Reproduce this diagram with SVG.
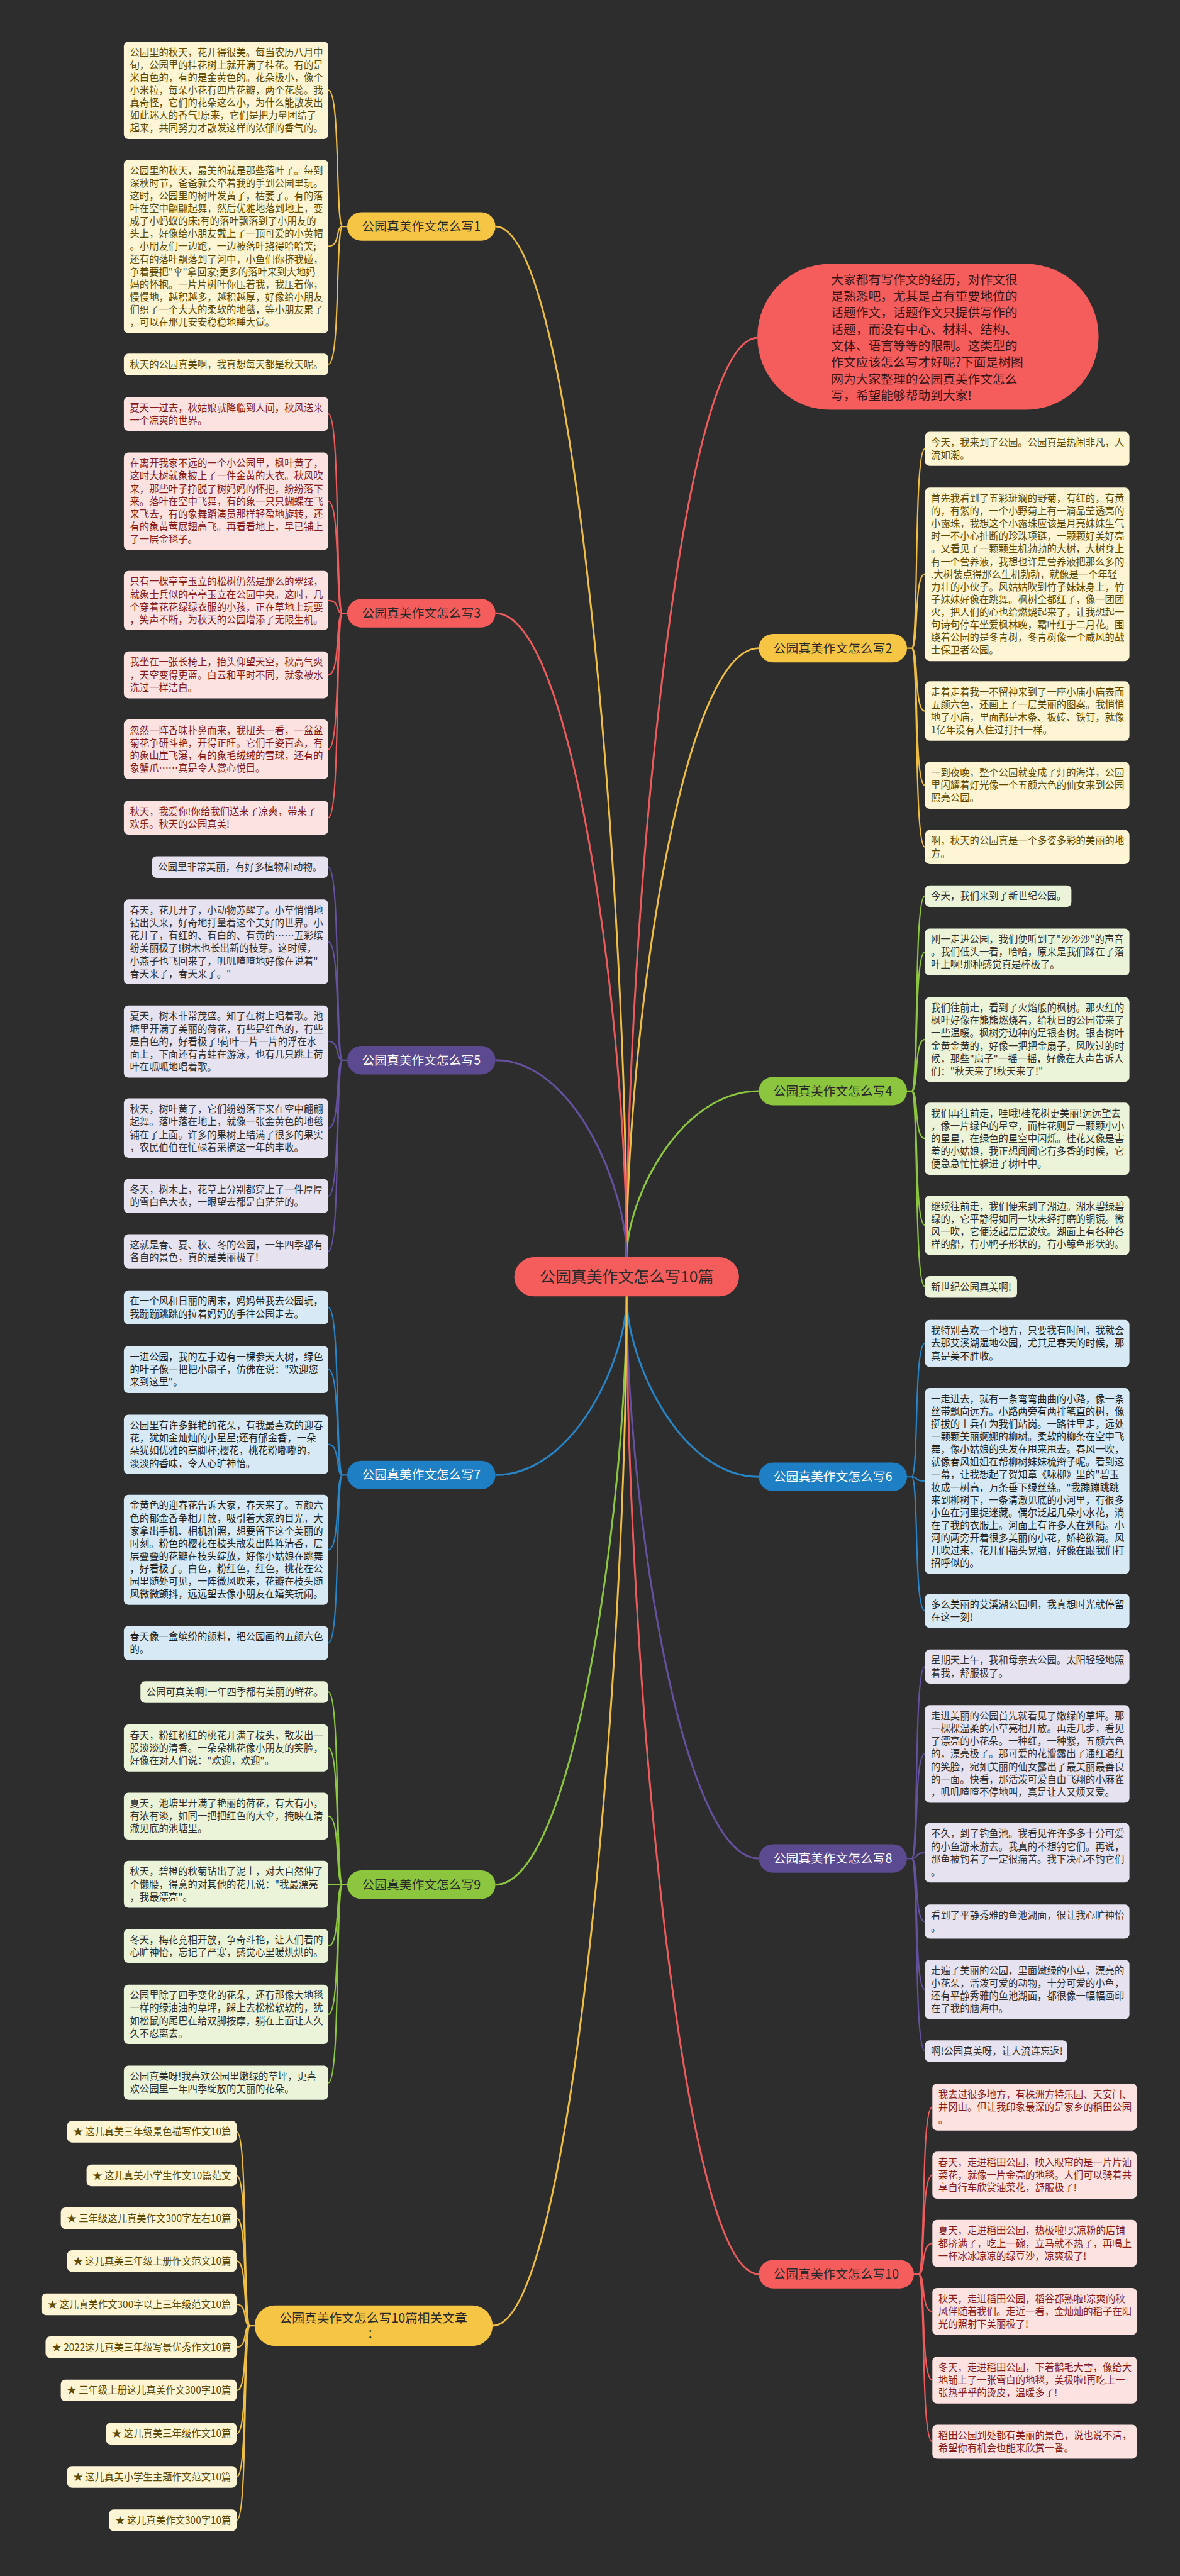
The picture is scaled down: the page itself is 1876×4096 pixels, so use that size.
<svg xmlns="http://www.w3.org/2000/svg" width="1876" height="4096" viewBox="0 0 1876 4096">
<style>
text{font-family:"Noto Sans CJK SC","Noto Sans",sans-serif}
.t{font-size:21px}
.nt{font-size:27px;text-anchor:middle}
.re{text-anchor:end}
.c{fill:none;stroke-width:3}
.m{fill:none;stroke-width:4}
.sy{stroke:#efbf45}.sr{stroke:#ee5b5c}.sg{stroke:#8dc63f}.sp{stroke:#65519f}.sb{stroke:#2785c8}
.by{fill:#fdf5d4}.ty{fill:#5f4800}
.br{fill:#fde2e2}.tr{fill:#8a1b1b}
.bgr{fill:#ebf4d9}.tg{fill:#2f2f2f}
.bp{fill:#e6e2f0}.tp{fill:#2f2f2f}
.bb{fill:#d6e9f5}.tb{fill:#222}
.ny{fill:#f7c544}.nr{fill:#f55d5d}.ng{fill:#8cc63f}.np{fill:#5c4a91}.nb{fill:#1f7fc4}
.dk{fill:#2a2a2a}.wh{fill:#fff}
</style>
<rect x="0" y="0" width="1876" height="4096" fill="#2d2d2d"/>
<g transform="scale(0.732)">
<g id="connectors">
<path class="m sy" d="M1361,2731 C1361,1947 1249,492 1076,492"/>
<path class="m sr" d="M1361,2731 C1361,2032 1474,734 1645,734"/>
<path class="m sy" d="M1361,2731 C1361,2268 1476,1408 1648,1408"/>
<path class="m sr" d="M1361,2731 C1361,2241 1247,1332 1076,1332"/>
<path class="m sg" d="M1361,2731 C1361,2605 1476,2370 1648,2370"/>
<path class="m sp" d="M1361,2731 C1361,2581 1247,2303 1076,2303"/>
<path class="m sb" d="M1361,2816 C1361,2953 1476,3208 1648,3208"/>
<path class="m sb" d="M1361,2816 C1361,2952 1247,3204 1076,3204"/>
<path class="m sp" d="M1361,2816 C1361,3243 1476,4037 1648,4037"/>
<path class="m sg" d="M1361,2816 C1361,3263 1247,4094 1076,4094"/>
<path class="m sr" d="M1361,2816 C1361,3559 1476,4940 1648,4940"/>
<path class="m sy" d="M1361,2816 C1361,3599 1244,5052 1070,5052"/>
<path class="c sy" d="M754,492 L744,492 C728,492 740,196 713,196 M744,492 C728,492 740,535 713,535 M744,492 C728,492 740,791 713,791"/>
<path class="c sr" d="M754,1332 L744,1332 C728,1332 740,899 713,899 M744,1332 C728,1332 740,1089 713,1089 M744,1332 C728,1332 740,1304.5 713,1304.5 M744,1332 C728,1332 740,1466 713,1466 M744,1332 C728,1332 740,1627.5 713,1627.5 M744,1332 C728,1332 740,1776 713,1776"/>
<path class="c sp" d="M754,2303 L744,2303 C728,2303 740,1883 713,1883 M744,2303 C728,2303 740,2046 713,2046 M744,2303 C728,2303 740,2262 713,2262 M744,2303 C728,2303 740,2450.5 713,2450.5 M744,2303 C728,2303 740,2598 713,2598 M744,2303 C728,2303 740,2718 713,2718"/>
<path class="c sb" d="M754,3204 L744,3204 C728,3204 740,2840 713,2840 M744,3204 C728,3204 740,2975 713,2975 M744,3204 C728,3204 740,3137.5 713,3137.5 M744,3204 C728,3204 740,3366.5 713,3366.5 M744,3204 C728,3204 740,3569 713,3569"/>
<path class="c sg" d="M754,4094 L744,4094 C728,4094 740,3675 713,3675 M744,4094 C728,4094 740,3797 713,3797 M744,4094 C728,4094 740,3945 713,3945 M744,4094 C728,4094 740,4093 713,4093 M744,4094 C728,4094 740,4227 713,4227 M744,4094 C728,4094 740,4375.5 713,4375.5 M744,4094 C728,4094 740,4524 713,4524"/>
<path class="c sy" d="M553,5052 L543,5052 C527,5052 539,4630.5 514,4630.5 M543,5052 C527,5052 539,4725.5 514,4725.5 M543,5052 C527,5052 539,4818.5 514,4818.5 M543,5052 C527,5052 539,4911.5 514,4911.5 M543,5052 C527,5052 539,5005.5 514,5005.5 M543,5052 C527,5052 539,5098.5 514,5098.5 M543,5052 C527,5052 539,5192.5 514,5192.5 M543,5052 C527,5052 539,5286.5 514,5286.5 M543,5052 C527,5052 539,5380.5 514,5380.5 M543,5052 C527,5052 539,5474.5 514,5474.5"/>
<path class="c sy" d="M1970,1408 L1980,1408 C1996,1408 1984,975 2009,975 M1980,1408 C1996,1408 1984,1247 2009,1247 M1980,1408 C1996,1408 1984,1544.5 2009,1544.5 M1980,1408 C1996,1408 1984,1706 2009,1706 M1980,1408 C1996,1408 1984,1840 2009,1840"/>
<path class="c sg" d="M1970,2370 L1980,2370 C1996,2370 1984,1946 2009,1946 M1980,2370 C1996,2370 1984,2068 2009,2068 M1980,2370 C1996,2370 1984,2258 2009,2258 M1980,2370 C1996,2370 1984,2473 2009,2473 M1980,2370 C1996,2370 1984,2661.5 2009,2661.5 M1980,2370 C1996,2370 1984,2795 2009,2795"/>
<path class="c sb" d="M1970,3208 L1980,3208 C1996,3208 1984,2918 2009,2918 M1980,3208 C1996,3208 1984,3217 2009,3217 M1980,3208 C1996,3208 1984,3499 2009,3499"/>
<path class="c sp" d="M1970,4037 L1980,4037 C1996,4037 1984,3620 2009,3620 M1980,4037 C1996,4037 1984,3810 2009,3810 M1980,4037 C1996,4037 1984,4024.5 2009,4024.5 M1980,4037 C1996,4037 1984,4174 2009,4174 M1980,4037 C1996,4037 1984,4321.5 2009,4321.5 M1980,4037 C1996,4037 1984,4455 2009,4455"/>
<path class="c sr" d="M1985,4940 L1995,4940 C2011,4940 1999,4577 2025,4577 M1995,4940 C2011,4940 1999,4725 2025,4725 M1995,4940 C2011,4940 1999,4873 2025,4873 M1995,4940 C2011,4940 1999,5021 2025,5021 M1995,4940 C2011,4940 1999,5170 2025,5170 M1995,4940 C2011,4940 1999,5304 2025,5304"/>
</g>

<g id="main">
<rect class="nr" x="1117" y="2731" width="488" height="85" rx="42.5"/>
<text class="dk" x="1361" y="2785" font-size="34" text-anchor="middle">公园真美作文怎么写10篇</text>
</g>

<g id="intro">
<rect class="nr" x="1645" y="573" width="741" height="317" rx="158" ry="158"/>
<text fill="#3a1414" font-size="27" x="1805" y="617"><tspan x="1805">大家都有写作文的经历，对作文很</tspan><tspan x="1805" dy="36">是熟悉吧，尤其是占有重要地位的</tspan><tspan x="1805" dy="36">话题作文，话题作文只提供写作的</tspan><tspan x="1805" dy="36">话题，而没有中心、材料、结构、</tspan><tspan x="1805" dy="36">文体、语言等等的限制。这类型的</tspan><tspan x="1805" dy="36">作文应该怎么写才好呢?下面是树图</tspan><tspan x="1805" dy="36">网为大家整理的公园真美作文怎么</tspan><tspan x="1805" dy="36">写，希望能够帮助到大家!</tspan></text>
</g>

<g id="node1"><rect class="ny" x="754" y="461" width="322" height="62" rx="31"/><text class="nt dk" x="915" y="501.5">公园真美作文怎么写1</text></g>
<g id="node2"><rect class="ny" x="1648" y="1377" width="322" height="62" rx="31"/><text class="nt dk" x="1809" y="1417.5">公园真美作文怎么写2</text></g>
<g id="node3"><rect class="nr" x="754" y="1301" width="322" height="62" rx="31"/><text class="nt dk" x="915" y="1341.5">公园真美作文怎么写3</text></g>
<g id="node4"><rect class="ng" x="1648" y="2339" width="322" height="62" rx="31"/><text class="nt dk" x="1809" y="2379.5">公园真美作文怎么写4</text></g>
<g id="node5"><rect class="np" x="754" y="2272" width="322" height="62" rx="31"/><text class="nt wh" x="915" y="2312.5">公园真美作文怎么写5</text></g>
<g id="node6"><rect class="nb" x="1648" y="3177" width="322" height="62" rx="31"/><text class="nt wh" x="1809" y="3217.5">公园真美作文怎么写6</text></g>
<g id="node7"><rect class="nb" x="754" y="3173" width="322" height="62" rx="31"/><text class="nt wh" x="915" y="3213.5">公园真美作文怎么写7</text></g>
<g id="node8"><rect class="np" x="1648" y="4006" width="322" height="62" rx="31"/><text class="nt wh" x="1809" y="4046.5">公园真美作文怎么写8</text></g>
<g id="node9"><rect class="ng" x="754" y="4063" width="322" height="62" rx="31"/><text class="nt dk" x="915" y="4103.5">公园真美作文怎么写9</text></g>
<g id="node10"><rect class="nr" x="1648" y="4909" width="337" height="62" rx="31"/><text class="nt dk" x="1816" y="4949.5">公园真美作文怎么写10</text></g>
<g id="node-related"><rect class="ny" x="553" y="5008" width="517" height="88" rx="44"/><text class="nt dk" x="811" y="5045">公园真美作文怎么写10篇相关文章</text><text class="nt dk" x="811" y="5079">：</text></g>

<g id="s1-1"><rect class="by" x="269" y="90" width="444" height="212" rx="10"/><text class="t ty" x="282" y="121"><tspan x="282">公园里的秋天，花开得很美。每当农历八月中</tspan><tspan x="282" dy="27.5">旬，公园里的桂花树上就开满了桂花。有的是</tspan><tspan x="282" dy="27.5">米白色的，有的是金黄色的。花朵极小，像个</tspan><tspan x="282" dy="27.5">小米粒，每朵小花有四片花瓣，两个花蕊。我</tspan><tspan x="282" dy="27.5">真奇怪，它们的花朵这么小，为什么能散发出</tspan><tspan x="282" dy="27.5">如此迷人的香气!原来，它们是把力量团结了</tspan><tspan x="282" dy="27.5">起来，共同努力才散发这样的浓郁的香气的。</tspan></text></g>
<g id="s1-2"><rect class="by" x="269" y="347" width="444" height="377" rx="10"/><text class="t ty" x="282" y="378"><tspan x="282">公园里的秋天，最美的就是那些落叶了。每到</tspan><tspan x="282" dy="27.5">深秋时节，爸爸就会牵着我的手到公园里玩。</tspan><tspan x="282" dy="27.5">这时，公园里的树叶发黄了，枯萎了。有的落</tspan><tspan x="282" dy="27.5">叶在空中翩翩起舞，然后优雅地落到地上，变</tspan><tspan x="282" dy="27.5">成了小蚂蚁的床;有的落叶飘落到了小朋友的</tspan><tspan x="282" dy="27.5">头上，好像给小朋友戴上了一顶可爱的小黄帽</tspan><tspan x="282" dy="27.5">。小朋友们一边跑，一边被落叶挠得哈哈笑;</tspan><tspan x="282" dy="27.5">还有的落叶飘落到了河中，小鱼们你挤我碰，</tspan><tspan x="282" dy="27.5">争着要把"伞"拿回家;更多的落叶来到大地妈</tspan><tspan x="282" dy="27.5">妈的怀抱。一片片树叶你压着我，我压着你，</tspan><tspan x="282" dy="27.5">慢慢地，越积越多，越积越厚，好像给小朋友</tspan><tspan x="282" dy="27.5">们织了一个大大的柔软的地毯，等小朋友累了</tspan><tspan x="282" dy="27.5">，可以在那儿安安稳稳地睡大觉。</tspan></text></g>
<g id="s1-3"><rect class="by" x="269" y="768" width="444" height="47" rx="10"/><text class="t ty" x="282" y="799">秋天的公园真美啊，我真想每天都是秋天呢。</text></g>

<g id="s3-1"><rect class="br" x="269" y="862" width="444" height="74" rx="10"/><text class="t tr" x="282" y="893"><tspan x="282">夏天一过去，秋姑娘就降临到人间，秋风送来</tspan><tspan x="282" dy="27.5">一个凉爽的世界。</tspan></text></g>
<g id="s3-2"><rect class="br" x="269" y="983" width="444" height="212" rx="10"/><text class="t tr" x="282" y="1014"><tspan x="282">在离开我家不远的一个小公园里，枫叶黄了，</tspan><tspan x="282" dy="27.5">这时大树就象披上了一件金黄的大衣。秋风吹</tspan><tspan x="282" dy="27.5">来，那些叶子挣脱了树妈妈的怀抱，纷纷落下</tspan><tspan x="282" dy="27.5">来。落叶在空中飞舞，有的象一只只蝴蝶在飞</tspan><tspan x="282" dy="27.5">来飞去，有的象舞蹈演员那样轻盈地旋转，还</tspan><tspan x="282" dy="27.5">有的象黄莺展翅高飞。再看看地上，早已铺上</tspan><tspan x="282" dy="27.5">了一层金毯子。</tspan></text></g>
<g id="s3-3"><rect class="br" x="269" y="1240" width="444" height="129" rx="10"/><text class="t tr" x="282" y="1271"><tspan x="282">只有一棵亭亭玉立的松树仍然是那么的翠绿，</tspan><tspan x="282" dy="27.5">就象士兵似的亭亭玉立在公园中央。这时，几</tspan><tspan x="282" dy="27.5">个穿着花花绿绿衣服的小孩，正在草地上玩耍</tspan><tspan x="282" dy="27.5">，笑声不断，为秋天的公园增添了无限生机。</tspan></text></g>
<g id="s3-4"><rect class="br" x="269" y="1415" width="444" height="102" rx="10"/><text class="t tr" x="282" y="1446"><tspan x="282">我坐在一张长椅上，抬头仰望天空，秋高气爽</tspan><tspan x="282" dy="27.5">，天空变得更蓝。白云和平时不同，就象被水</tspan><tspan x="282" dy="27.5">洗过一样洁白。</tspan></text></g>
<g id="s3-5"><rect class="br" x="269" y="1563" width="444" height="129" rx="10"/><text class="t tr" x="282" y="1594"><tspan x="282">忽然一阵香味扑鼻而来，我扭头一看，一盆盆</tspan><tspan x="282" dy="27.5">菊花争研斗艳，开得正旺。它们千姿百态，有</tspan><tspan x="282" dy="27.5">的象山崖飞瀑，有的象毛绒绒的雪球，还有的</tspan><tspan x="282" dy="27.5">象蟹爪……真是令人赏心悦目。</tspan></text></g>
<g id="s3-6"><rect class="br" x="269" y="1739" width="444" height="74" rx="10"/><text class="t tr" x="282" y="1770"><tspan x="282">秋天，我爱你!你给我们送来了凉爽，带来了</tspan><tspan x="282" dy="27.5">欢乐。秋天的公园真美!</tspan></text></g>

<g id="s5-1"><rect class="bp" x="330" y="1860" width="383" height="47" rx="10"/><text class="t tp" x="343" y="1891">公园里非常美丽，有好多植物和动物。</text></g>
<g id="s5-2"><rect class="bp" x="269" y="1954" width="444" height="184" rx="10"/><text class="t tp" x="282" y="1985"><tspan x="282">春天，花儿开了，小动物苏醒了。小草悄悄地</tspan><tspan x="282" dy="27.5">钻出头来，好奇地打量着这个美好的世界。小</tspan><tspan x="282" dy="27.5">花开了，有红的、有白的、有黄的……五彩缤</tspan><tspan x="282" dy="27.5">纷美丽极了!树木也长出新的枝芽。这时候，</tspan><tspan x="282" dy="27.5">小燕子也飞回来了，叽叽喳喳地好像在说着"</tspan><tspan x="282" dy="27.5">春天来了，春天来了。"</tspan></text></g>
<g id="s5-3"><rect class="bp" x="269" y="2184" width="444" height="157" rx="10"/><text class="t tp" x="282" y="2215"><tspan x="282">夏天，树木非常茂盛。知了在树上唱着歌。池</tspan><tspan x="282" dy="27.5">塘里开满了美丽的荷花，有些是红色的，有些</tspan><tspan x="282" dy="27.5">是白色的，好看极了!荷叶一片一片的浮在水</tspan><tspan x="282" dy="27.5">面上，下面还有青蛙在游泳，也有几只跳上荷</tspan><tspan x="282" dy="27.5">叶在呱呱地唱着歌。</tspan></text></g>
<g id="s5-4"><rect class="bp" x="269" y="2386" width="444" height="129" rx="10"/><text class="t tp" x="282" y="2417"><tspan x="282">秋天，树叶黄了，它们纷纷落下来在空中翩翩</tspan><tspan x="282" dy="27.5">起舞。落叶落在地上，就像一张金黄色的地毯</tspan><tspan x="282" dy="27.5">铺在了上面。许多的果树上结满了很多的果实</tspan><tspan x="282" dy="27.5">，农民伯伯在忙碌着采摘这一年的丰收。</tspan></text></g>
<g id="s5-5"><rect class="bp" x="269" y="2561" width="444" height="74" rx="10"/><text class="t tp" x="282" y="2592"><tspan x="282">冬天，树木上，花草上分别都穿上了一件厚厚</tspan><tspan x="282" dy="27.5">的雪白色大衣，一眼望去都是白茫茫的。</tspan></text></g>
<g id="s5-6"><rect class="bp" x="269" y="2681" width="444" height="74" rx="10"/><text class="t tp" x="282" y="2712"><tspan x="282">这就是春、夏、秋、冬的公园，一年四季都有</tspan><tspan x="282" dy="27.5">各自的景色，真的是美丽极了!</tspan></text></g>

<g id="s7-1"><rect class="bb" x="269" y="2803" width="444" height="74" rx="10"/><text class="t tb" x="282" y="2834"><tspan x="282">在一个风和日丽的周末，妈妈带我去公园玩，</tspan><tspan x="282" dy="27.5">我蹦蹦跳跳的拉着妈妈的手往公园走去。</tspan></text></g>
<g id="s7-2"><rect class="bb" x="269" y="2924" width="444" height="102" rx="10"/><text class="t tb" x="282" y="2955"><tspan x="282">一进公园，我的左手边有一棵参天大树，绿色</tspan><tspan x="282" dy="27.5">的叶子像一把把小扇子，仿佛在说："欢迎您</tspan><tspan x="282" dy="27.5">来到这里"。</tspan></text></g>
<g id="s7-3"><rect class="bb" x="269" y="3073" width="444" height="129" rx="10"/><text class="t tb" x="282" y="3104"><tspan x="282">公园里有许多鲜艳的花朵，有我最喜欢的迎春</tspan><tspan x="282" dy="27.5">花，犹如金灿灿的小星星;还有郁金香，一朵</tspan><tspan x="282" dy="27.5">朵犹如优雅的高脚杯;樱花，桃花粉嘟嘟的，</tspan><tspan x="282" dy="27.5">淡淡的香味，令人心旷神怡。</tspan></text></g>
<g id="s7-4"><rect class="bb" x="269" y="3247" width="444" height="239" rx="10"/><text class="t tb" x="282" y="3278"><tspan x="282">金黄色的迎春花告诉大家，春天来了。五颜六</tspan><tspan x="282" dy="27.5">色的郁金香争相开放，吸引着大家的目光，大</tspan><tspan x="282" dy="27.5">家拿出手机、相机拍照，想要留下这个美丽的</tspan><tspan x="282" dy="27.5">时刻。粉色的樱花在枝头散发出阵阵清香，层</tspan><tspan x="282" dy="27.5">层叠叠的花瓣在枝头绽放，好像小姑娘在跳舞</tspan><tspan x="282" dy="27.5">，好看极了。白色，粉红色，红色，桃花在公</tspan><tspan x="282" dy="27.5">园里随处可见，一阵微风吹来，花瓣在枝头随</tspan><tspan x="282" dy="27.5">风微微颤抖，远远望去像小朋友在嬉笑玩闹。</tspan></text></g>
<g id="s7-5"><rect class="bb" x="269" y="3532" width="444" height="74" rx="10"/><text class="t tb" x="282" y="3563"><tspan x="282">春天像一盒缤纷的颜料，把公园画的五颜六色</tspan><tspan x="282" dy="27.5">的。</tspan></text></g>

<g id="s9-1"><rect class="bgr" x="305" y="3652" width="408" height="47" rx="10"/><text class="t tg" x="318" y="3683">公园可真美啊!一年四季都有美丽的鲜花。</text></g>
<g id="s9-2"><rect class="bgr" x="269" y="3746" width="444" height="102" rx="10"/><text class="t tg" x="282" y="3777"><tspan x="282">春天，粉红粉红的桃花开满了枝头，散发出一</tspan><tspan x="282" dy="27.5">股淡淡的清香。一朵朵桃花像小朋友的笑脸，</tspan><tspan x="282" dy="27.5">好像在对人们说："欢迎，欢迎"。</tspan></text></g>
<g id="s9-3"><rect class="bgr" x="269" y="3894" width="444" height="102" rx="10"/><text class="t tg" x="282" y="3925"><tspan x="282">夏天，池塘里开满了艳丽的荷花，有大有小，</tspan><tspan x="282" dy="27.5">有浓有淡，如同一把把红色的大伞，掩映在清</tspan><tspan x="282" dy="27.5">澈见底的池塘里。</tspan></text></g>
<g id="s9-4"><rect class="bgr" x="269" y="4042" width="444" height="102" rx="10"/><text class="t tg" x="282" y="4073"><tspan x="282">秋天，碧橙的秋菊钻出了泥土，对大自然伸了</tspan><tspan x="282" dy="27.5">个懒腰，得意的对其他的花儿说："我最漂亮</tspan><tspan x="282" dy="27.5">，我最漂亮"。</tspan></text></g>
<g id="s9-5"><rect class="bgr" x="269" y="4190" width="444" height="74" rx="10"/><text class="t tg" x="282" y="4221"><tspan x="282">冬天，梅花竞相开放，争奇斗艳，让人们看的</tspan><tspan x="282" dy="27.5">心旷神怡，忘记了严寒，感觉心里暖烘烘的。</tspan></text></g>
<g id="s9-6"><rect class="bgr" x="269" y="4311" width="444" height="129" rx="10"/><text class="t tg" x="282" y="4342"><tspan x="282">公园里除了四季变化的花朵，还有那像大地毯</tspan><tspan x="282" dy="27.5">一样的绿油油的草坪，踩上去松松软软的，犹</tspan><tspan x="282" dy="27.5">如松鼠的尾巴在给双脚按摩，躺在上面让人久</tspan><tspan x="282" dy="27.5">久不忍离去。</tspan></text></g>
<g id="s9-7"><rect class="bgr" x="269" y="4487" width="444" height="74" rx="10"/><text class="t tg" x="282" y="4518"><tspan x="282">公园真美呀!我喜欢公园里嫩绿的草坪，更喜</tspan><tspan x="282" dy="27.5">欢公园里一年四季绽放的美丽的花朵。</tspan></text></g>

<g id="rel-1"><rect class="by" x="146" y="4607" width="368" height="47" rx="10"/><text class="t ty re" x="502" y="4638">★ 这儿真美三年级景色描写作文10篇</text></g>
<g id="rel-2"><rect class="by" x="188" y="4702" width="326" height="47" rx="10"/><text class="t ty re" x="502" y="4733">★ 这儿真美小学生作文10篇范文</text></g>
<g id="rel-3"><rect class="by" x="132" y="4795" width="382" height="47" rx="10"/><text class="t ty re" x="502" y="4826">★ 三年级这儿真美作文300字左右10篇</text></g>
<g id="rel-4"><rect class="by" x="146" y="4888" width="368" height="47" rx="10"/><text class="t ty re" x="502" y="4919">★ 这儿真美三年级上册作文范文10篇</text></g>
<g id="rel-5"><rect class="by" x="90" y="4982" width="424" height="47" rx="10"/><text class="t ty re" x="502" y="5013">★ 这儿真美作文300字以上三年级范文10篇</text></g>
<g id="rel-6"><rect class="by" x="99" y="5075" width="415" height="47" rx="10"/><text class="t ty re" x="502" y="5106">★ 2022这儿真美三年级写景优秀作文10篇</text></g>
<g id="rel-7"><rect class="by" x="132" y="5169" width="382" height="47" rx="10"/><text class="t ty re" x="502" y="5200">★ 三年级上册这儿真美作文300字10篇</text></g>
<g id="rel-8"><rect class="by" x="230" y="5263" width="284" height="47" rx="10"/><text class="t ty re" x="502" y="5294">★ 这儿真美三年级作文10篇</text></g>
<g id="rel-9"><rect class="by" x="146" y="5357" width="368" height="47" rx="10"/><text class="t ty re" x="502" y="5388">★ 这儿真美小学生主题作文范文10篇</text></g>
<g id="rel-10"><rect class="by" x="237" y="5451" width="277" height="47" rx="10"/><text class="t ty re" x="502" y="5482">★ 这儿真美作文300字10篇</text></g>

<g id="s2-1"><rect class="by" x="2009" y="938" width="444" height="74" rx="10"/><text class="t ty" x="2022" y="969"><tspan x="2022">今天，我来到了公园。公园真是热闹非凡，人</tspan><tspan x="2022" dy="27.5">流如潮。</tspan></text></g>
<g id="s2-2"><rect class="by" x="2009" y="1059" width="444" height="377" rx="10"/><text class="t ty" x="2022" y="1090"><tspan x="2022">首先我看到了五彩斑斓的野菊，有红的，有黄</tspan><tspan x="2022" dy="27.5">的，有紫的，一个小野菊上有一滴晶莹透亮的</tspan><tspan x="2022" dy="27.5">小露珠，我想这个小露珠应该是月亮妹妹生气</tspan><tspan x="2022" dy="27.5">时一不小心扯断的珍珠项链，一颗颗好美好亮</tspan><tspan x="2022" dy="27.5">。又看见了一颗颗生机勃勃的大树，大树身上</tspan><tspan x="2022" dy="27.5">有一个营养液，我想也许是营养液把那么多的</tspan><tspan x="2022" dy="27.5">.大树装点得那么生机勃勃，就像是一个年轻</tspan><tspan x="2022" dy="27.5">力壮的小伙子。风姑姑吹到竹子妹妹身上，竹</tspan><tspan x="2022" dy="27.5">子妹妹好像在跳舞。枫树全都红了，像一团团</tspan><tspan x="2022" dy="27.5">火，把人们的心也给燃烧起来了，让我想起一</tspan><tspan x="2022" dy="27.5">句诗句停车坐爱枫林晚，霜叶红于二月花。围</tspan><tspan x="2022" dy="27.5">绕着公园的是冬青树，冬青树像一个威风的战</tspan><tspan x="2022" dy="27.5">士保卫者公园。</tspan></text></g>
<g id="s2-3"><rect class="by" x="2009" y="1480" width="444" height="129" rx="10"/><text class="t ty" x="2022" y="1511"><tspan x="2022">走着走着我一不留神来到了一座小庙小庙表面</tspan><tspan x="2022" dy="27.5">五颜六色，还画上了一层美丽的图案。我悄悄</tspan><tspan x="2022" dy="27.5">地了小庙，里面都是木条、板砖、铁钉，就像</tspan><tspan x="2022" dy="27.5">1亿年没有人住过打扫一样。</tspan></text></g>
<g id="s2-4"><rect class="by" x="2009" y="1655" width="444" height="102" rx="10"/><text class="t ty" x="2022" y="1686"><tspan x="2022">一到夜晚，整个公园就变成了灯的海洋，公园</tspan><tspan x="2022" dy="27.5">里闪耀着灯光像一个五颜六色的仙女来到公园</tspan><tspan x="2022" dy="27.5">照亮公园。</tspan></text></g>
<g id="s2-5"><rect class="by" x="2009" y="1803" width="444" height="74" rx="10"/><text class="t ty" x="2022" y="1834"><tspan x="2022">啊，秋天的公园真是一个多姿多彩的美丽的地</tspan><tspan x="2022" dy="27.5">方。</tspan></text></g>

<g id="s4-1"><rect class="bgr" x="2009" y="1923" width="318" height="47" rx="10"/><text class="t tg" x="2022" y="1954">今天，我们来到了新世纪公园。</text></g>
<g id="s4-2"><rect class="bgr" x="2009" y="2017" width="444" height="102" rx="10"/><text class="t tg" x="2022" y="2048"><tspan x="2022">刚一走进公园，我们便听到了"沙沙沙"的声音</tspan><tspan x="2022" dy="27.5">。我们低头一看，哈哈，原来是我们踩在了落</tspan><tspan x="2022" dy="27.5">叶上啊!那种感觉真是棒极了。</tspan></text></g>
<g id="s4-3"><rect class="bgr" x="2009" y="2166" width="444" height="184" rx="10"/><text class="t tg" x="2022" y="2197"><tspan x="2022">我们往前走，看到了火焰般的枫树。那火红的</tspan><tspan x="2022" dy="27.5">枫叶好像在熊熊燃烧着，给秋日的公园带来了</tspan><tspan x="2022" dy="27.5">一些温暖。枫树旁边种的是银杏树。银杏树叶</tspan><tspan x="2022" dy="27.5">金黄金黄的，好像一把把金扇子，风吹过的时</tspan><tspan x="2022" dy="27.5">候，那些"扇子"一摇一摇，好像在大声告诉人</tspan><tspan x="2022" dy="27.5">们："秋天来了!秋天来了!"</tspan></text></g>
<g id="s4-4"><rect class="bgr" x="2009" y="2395" width="444" height="157" rx="10"/><text class="t tg" x="2022" y="2426"><tspan x="2022">我们再往前走，哇哦!桂花树更美丽!远远望去</tspan><tspan x="2022" dy="27.5">，像一片绿色的星空，而桂花则是一颗颗小小</tspan><tspan x="2022" dy="27.5">的星星，在绿色的星空中闪烁。桂花又像是害</tspan><tspan x="2022" dy="27.5">羞的小姑娘，我正想闻闻它有多香的时候，它</tspan><tspan x="2022" dy="27.5">便急急忙忙躲进了树叶中。</tspan></text></g>
<g id="s4-5"><rect class="bgr" x="2009" y="2597" width="444" height="129" rx="10"/><text class="t tg" x="2022" y="2628"><tspan x="2022">继续往前走，我们便来到了湖边。湖水碧绿碧</tspan><tspan x="2022" dy="27.5">绿的，它平静得如同一块未经打磨的铜镜。微</tspan><tspan x="2022" dy="27.5">风一吹，它便泛起层层波纹。湖面上有各种各</tspan><tspan x="2022" dy="27.5">样的船，有小鸭子形状的，有小鲸鱼形状的。</tspan></text></g>
<g id="s4-6"><rect class="bgr" x="2009" y="2772" width="200" height="47" rx="10"/><text class="t tg" x="2022" y="2803">新世纪公园真美啊!</text></g>

<g id="s6-1"><rect class="bb" x="2009" y="2867" width="444" height="102" rx="10"/><text class="t tb" x="2022" y="2898"><tspan x="2022">我特别喜欢一个地方，只要我有时间，我就会</tspan><tspan x="2022" dy="27.5">去那艾溪湖湿地公园，尤其是春天的时候，那</tspan><tspan x="2022" dy="27.5">真是美不胜收。</tspan></text></g>
<g id="s6-2"><rect class="bb" x="2009" y="3015" width="444" height="404" rx="10"/><text class="t tb" x="2022" y="3046"><tspan x="2022">一走进去，就有一条弯弯曲曲的小路，像一条</tspan><tspan x="2022" dy="27.5">丝带飘向远方。小路两旁有两排笔直的树，像</tspan><tspan x="2022" dy="27.5">挺拔的士兵在为我们站岗。一路往里走，远处</tspan><tspan x="2022" dy="27.5">一颗颗美丽婀娜的柳树。柔软的柳条在空中飞</tspan><tspan x="2022" dy="27.5">舞，像小姑娘的头发在甩来甩去。春风一吹，</tspan><tspan x="2022" dy="27.5">就像春风姐姐在帮柳树妹妹梳辫子呢。看到这</tspan><tspan x="2022" dy="27.5">一幕，让我想起了贺知章《咏柳》里的"碧玉</tspan><tspan x="2022" dy="27.5">妆成一树高，万条垂下绿丝绦。"我蹦蹦跳跳</tspan><tspan x="2022" dy="27.5">来到柳树下，一条清澈见底的小河里，有很多</tspan><tspan x="2022" dy="27.5">小鱼在河里捉迷藏。偶尔泛起几朵小水花，淌</tspan><tspan x="2022" dy="27.5">在了我的衣服上。河面上有许多人在划船。小</tspan><tspan x="2022" dy="27.5">河的两旁开着很多美丽的小花，娇艳欲滴。风</tspan><tspan x="2022" dy="27.5">儿吹过来，花儿们摇头晃脑，好像在跟我们打</tspan><tspan x="2022" dy="27.5">招呼似的。</tspan></text></g>
<g id="s6-3"><rect class="bb" x="2009" y="3462" width="444" height="74" rx="10"/><text class="t tb" x="2022" y="3493"><tspan x="2022">多么美丽的艾溪湖公园啊，我真想时光就停留</tspan><tspan x="2022" dy="27.5">在这一刻!</tspan></text></g>

<g id="s8-1"><rect class="bp" x="2009" y="3583" width="444" height="74" rx="10"/><text class="t tp" x="2022" y="3614"><tspan x="2022">星期天上午，我和母亲去公园。太阳轻轻地照</tspan><tspan x="2022" dy="27.5">着我，舒服极了。</tspan></text></g>
<g id="s8-2"><rect class="bp" x="2009" y="3704" width="444" height="212" rx="10"/><text class="t tp" x="2022" y="3735"><tspan x="2022">走进美丽的公园首先就看见了嫩绿的草坪。那</tspan><tspan x="2022" dy="27.5">一棵棵温柔的小草亮相开放。再走几步，看见</tspan><tspan x="2022" dy="27.5">了漂亮的小花朵。一种红，一种紫，五颜六色</tspan><tspan x="2022" dy="27.5">的，漂亮极了。那可爱的花瓣露出了通红通红</tspan><tspan x="2022" dy="27.5">的笑脸，宛如美丽的仙女露出了最美丽最善良</tspan><tspan x="2022" dy="27.5">的一面。快看，那活泼可爱自由飞翔的小麻雀</tspan><tspan x="2022" dy="27.5">，叽叽喳喳不停地叫，真是让人又烦又爱。</tspan></text></g>
<g id="s8-3"><rect class="bp" x="2009" y="3960" width="444" height="129" rx="10"/><text class="t tp" x="2022" y="3991"><tspan x="2022">不久，到了钓鱼池。我看见许许多多十分可爱</tspan><tspan x="2022" dy="27.5">的小鱼游来游去。我真的不想钓它们。再说，</tspan><tspan x="2022" dy="27.5">那鱼被钓着了一定很痛苦。我下决心不钓它们</tspan><tspan x="2022" dy="27.5">。</tspan></text></g>
<g id="s8-4"><rect class="bp" x="2009" y="4137" width="444" height="74" rx="10"/><text class="t tp" x="2022" y="4168"><tspan x="2022">看到了平静秀雅的鱼池湖面，很让我心旷神怡</tspan><tspan x="2022" dy="27.5">。</tspan></text></g>
<g id="s8-5"><rect class="bp" x="2009" y="4257" width="444" height="129" rx="10"/><text class="t tp" x="2022" y="4288"><tspan x="2022">走遍了美丽的公园，里面嫩绿的小草，漂亮的</tspan><tspan x="2022" dy="27.5">小花朵，活泼可爱的动物，十分可爱的小鱼，</tspan><tspan x="2022" dy="27.5">还有平静秀雅的鱼池湖面，都很像一幅幅画印</tspan><tspan x="2022" dy="27.5">在了我的脑海中。</tspan></text></g>
<g id="s8-6"><rect class="bp" x="2009" y="4432" width="309" height="47" rx="10"/><text class="t tp" x="2022" y="4463">啊!公园真美呀，让人流连忘返!</text></g>

<g id="s10-1"><rect class="br" x="2025" y="4526" width="444" height="102" rx="10"/><text class="t tr" x="2038" y="4557"><tspan x="2038">我去过很多地方，有株洲方特乐园、天安门、</tspan><tspan x="2038" dy="27.5">井冈山。但让我印象最深的是家乡的稻田公园</tspan><tspan x="2038" dy="27.5">。</tspan></text></g>
<g id="s10-2"><rect class="br" x="2025" y="4674" width="444" height="102" rx="10"/><text class="t tr" x="2038" y="4705"><tspan x="2038">春天，走进稻田公园，映入眼帘的是一片片油</tspan><tspan x="2038" dy="27.5">菜花，就像一片金亮的地毯。人们可以骑着共</tspan><tspan x="2038" dy="27.5">享自行车欣赏油菜花，舒服极了!</tspan></text></g>
<g id="s10-3"><rect class="br" x="2025" y="4822" width="444" height="102" rx="10"/><text class="t tr" x="2038" y="4853"><tspan x="2038">夏天，走进稻田公园，热极啦!买凉粉的店铺</tspan><tspan x="2038" dy="27.5">都挤满了，吃上一碗，立马就不热了，再喝上</tspan><tspan x="2038" dy="27.5">一杯冰冰凉凉的绿豆沙，凉爽极了!</tspan></text></g>
<g id="s10-4"><rect class="br" x="2025" y="4970" width="444" height="102" rx="10"/><text class="t tr" x="2038" y="5001"><tspan x="2038">秋天，走进稻田公园，稻谷都熟啦!凉爽的秋</tspan><tspan x="2038" dy="27.5">风伴随着我们。走近一看，金灿灿的稻子在阳</tspan><tspan x="2038" dy="27.5">光的照射下美丽极了!</tspan></text></g>
<g id="s10-5"><rect class="br" x="2025" y="5119" width="444" height="102" rx="10"/><text class="t tr" x="2038" y="5150"><tspan x="2038">冬天，走进稻田公园，下着鹅毛大雪，像给大</tspan><tspan x="2038" dy="27.5">地铺上了一张雪白的地毯，美极啦!再吃上一</tspan><tspan x="2038" dy="27.5">张热乎乎的烫皮，温暖多了!</tspan></text></g>
<g id="s10-6"><rect class="br" x="2025" y="5267" width="444" height="74" rx="10"/><text class="t tr" x="2038" y="5298"><tspan x="2038">稻田公园到处都有美丽的景色，说也说不清，</tspan><tspan x="2038" dy="27.5">希望你有机会也能来欣赏一番。</tspan></text></g>
</g>
</svg>
